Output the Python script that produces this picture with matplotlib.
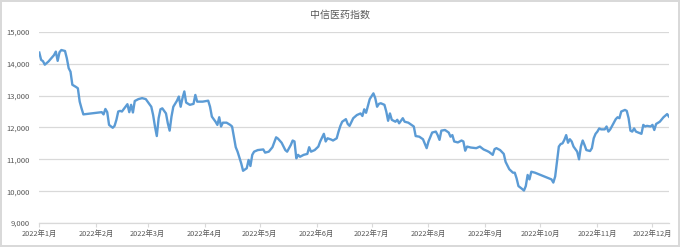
import numpy as np
import pandas as pd
import matplotlib
matplotlib.use("Agg")
import matplotlib.pyplot as plt
import matplotlib.dates as mdates
from matplotlib.ticker import FuncFormatter

plt.rcParams['font.family'] = ['Noto Sans CJK SC', 'DejaVu Sans']

# --- データ ---
title = "中信医药指数"

dates = [
    "01-04", "01-05", "01-06", "01-07", "01-09", "01-11", "01-12", "01-13", "01-14", "01-15",
    "01-16", "01-18", "01-19", "01-20", "01-21", "01-22", "01-24", "01-25", "01-26", "01-27",
    "01-28", "02-07", "02-08", "02-09", "02-10", "02-11", "02-13", "02-14", "02-15", "02-16",
    "02-17", "02-18", "02-20", "02-21", "02-22", "02-23", "02-24", "02-25", "02-27", "03-01",
    "03-03", "03-04", "03-06", "03-07", "03-08", "03-09", "03-10", "03-11", "03-12", "03-14",
    "03-15", "03-16", "03-17", "03-18", "03-20", "03-21", "03-22", "03-23", "03-24", "03-25",
    "03-27", "03-29", "03-30", "03-31", "04-03", "04-06", "04-07", "04-08", "04-10", "04-11",
    "04-12", "04-13", "04-14", "04-16", "04-18", "04-19", "04-21", "04-22", "04-24", "04-25",
    "04-27", "04-28", "04-29", "04-30", "05-01", "05-03", "05-06", "05-07", "05-09", "05-11",
    "05-13", "05-14", "05-16", "05-18", "05-19", "05-21", "05-22", "05-23", "05-24", "05-25",
    "05-26", "05-28", "05-30", "05-31", "06-01", "06-03", "06-05", "06-06", "06-08", "06-09",
    "06-10", "06-12", "06-13", "06-15", "06-16", "06-17", "06-18", "06-20", "06-21", "06-22",
    "06-24", "06-26", "06-28", "06-29", "06-30", "07-01", "07-02", "07-03", "07-05", "07-06",
    "07-07", "07-08", "07-09", "07-11", "07-12", "07-13", "07-14", "07-15", "07-17", "07-18",
    "07-19", "07-21", "07-22", "07-24", "07-27", "07-28", "07-30", "08-01", "08-03", "08-04",
    "08-06", "08-08", "08-09", "08-10", "08-11", "08-13", "08-15", "08-16", "08-17", "08-18",
    "08-20", "08-22", "08-23", "08-24", "08-25", "08-27", "08-30", "09-01", "09-03", "09-05",
    "09-06", "09-08", "09-09", "09-10", "09-12", "09-14", "09-15", "09-17", "09-19", "09-20",
    "09-21", "09-22", "09-24", "09-25", "09-26", "09-27", "09-28", "09-29", "10-01", "10-10",
    "10-11", "10-12", "10-13", "10-14", "10-15", "10-16", "10-17", "10-18", "10-19", "10-20",
    "10-21", "10-22", "10-24", "10-25", "10-26", "10-27", "10-28", "10-29", "10-31", "11-01",
    "11-02", "11-03", "11-04", "11-05", "11-06", "11-08", "11-09", "11-10", "11-11", "11-13",
    "11-14", "11-15", "11-16", "11-17", "11-19", "11-20", "11-21", "11-22", "11-23", "11-24",
    "11-25", "11-28", "11-29", "11-30", "12-01", "12-03", "12-04", "12-05", "12-06", "12-08",
    "12-10", "12-12", "12-13",
]

values = [
    14350, 14120, 14080, 13970, 14070, 14200, 14270, 14380, 14090, 14360,
    14430, 14400, 14170, 13860, 13750, 13340, 13270, 13230, 12810, 12600,
    12410, 12480, 12410, 12580, 12480, 12080, 11990, 12050, 12240, 12500,
    12520, 12500, 12650, 12730, 12480, 12710, 12470, 12830, 12890, 12920,
    12890, 12810, 12650, 12390, 12030, 11730, 12290, 12570, 12600, 12440,
    12130, 11900, 12340, 12650, 12840, 12970, 12650, 12920, 13130, 12780,
    12710, 12740, 13020, 12810, 12810, 12840, 12650, 12340, 12180, 12080,
    12320, 12030, 12150, 12150, 12080, 12030, 11380, 11240, 10870, 10640,
    10720, 10980, 10790, 11140, 11240, 11290, 11310, 11210, 11240, 11380,
    11690, 11650, 11520, 11290, 11240, 11450, 11590, 11560, 11030, 11140,
    11080, 11140, 11170, 11380, 11240, 11290, 11400, 11560, 11800, 11560,
    11660, 11620, 11590, 11660, 11870, 12050, 12180, 12260, 12110, 12050,
    12290, 12390, 12440, 12360, 12570, 12460, 12670, 12890, 13070, 12920,
    12650, 12740, 12760, 12710, 12500, 12210, 12440, 12240, 12180, 12240,
    12130, 12290, 12180, 12150, 12030, 11730, 11710, 11630, 11350, 11560,
    11840, 11870, 11760, 11610, 11900, 11920, 11840, 11710, 11760, 11560,
    11530, 11590, 11560, 11270, 11400, 11370, 11350, 11400, 11310, 11260,
    11230, 11140, 11320, 11350, 11290, 11170, 10920, 10690, 10580, 10580,
    10400, 10160, 10070, 10020, 10160, 10510, 10370, 10610, 10580, 10370,
    10270, 10460, 10920, 11400, 11480, 11500, 11610, 11760, 11520, 11630,
    11560, 11400, 11240, 11000, 11400, 11590, 11450, 11290, 11260, 11350,
    11660, 11800, 11870, 11970, 11940, 11940, 12030, 11870, 11940, 12150,
    12260, 12320, 12290, 12500, 12550, 12520, 12290, 11900, 11870, 11970,
    11870, 11800, 12080, 12030, 12050, 12030, 12080, 11920, 12110, 12180,
    12320, 12420, 12340,
]

y_ticks = [9000, 10000, 11000, 12000, 13000, 14000, 15000]
tick_dates = ["2022-%02d-04" % m for m in range(1, 13)]
tick_labels = ["2022年%d月" % m for m in range(1, 13)]

x = pd.to_datetime(["2022-" + d for d in dates])

# --- 描画 ---
fig = plt.figure(figsize=(6.8, 2.47), dpi=100)
fig.patch.set_edgecolor('#D9D9D9')
fig.patch.set_linewidth(1.5)
ax = fig.add_axes([0.0578, 0.097, 0.926, 0.774])

ax.plot(x, values, color='#5B9BD5', linewidth=1.7, solid_joinstyle='round')

ax.set_xlim(x[0], x[-1])
ax.set_ylim(y_ticks[0], y_ticks[-1])

# 軸の体裁
ax.set_yticks(y_ticks)
ax.yaxis.set_major_formatter(FuncFormatter(lambda v, p: f"{int(v):,}"))
ax.grid(axis='y', color='#D9D9D9', linewidth=0.9)
ax.set_axisbelow(True)

ax.set_xticks(pd.to_datetime(tick_dates))
ax.set_xticklabels(tick_labels)

for side in ['left', 'right', 'top']:
    ax.spines[side].set_visible(False)
ax.spines['bottom'].set_color('#D9D9D9')
ax.spines['bottom'].set_linewidth(0.9)

ax.tick_params(axis='y', length=0, pad=7, labelsize=5.5, labelcolor='#595959')
ax.tick_params(axis='x', length=3, width=0.8, color='#D9D9D9', pad=2,
               labelsize=5.3, labelcolor='#595959')

fig.text(0.5, 0.94, title, ha='center', va='center', fontsize=7.2, color='#595959')

fig.savefig("out.png", dpi=100)
